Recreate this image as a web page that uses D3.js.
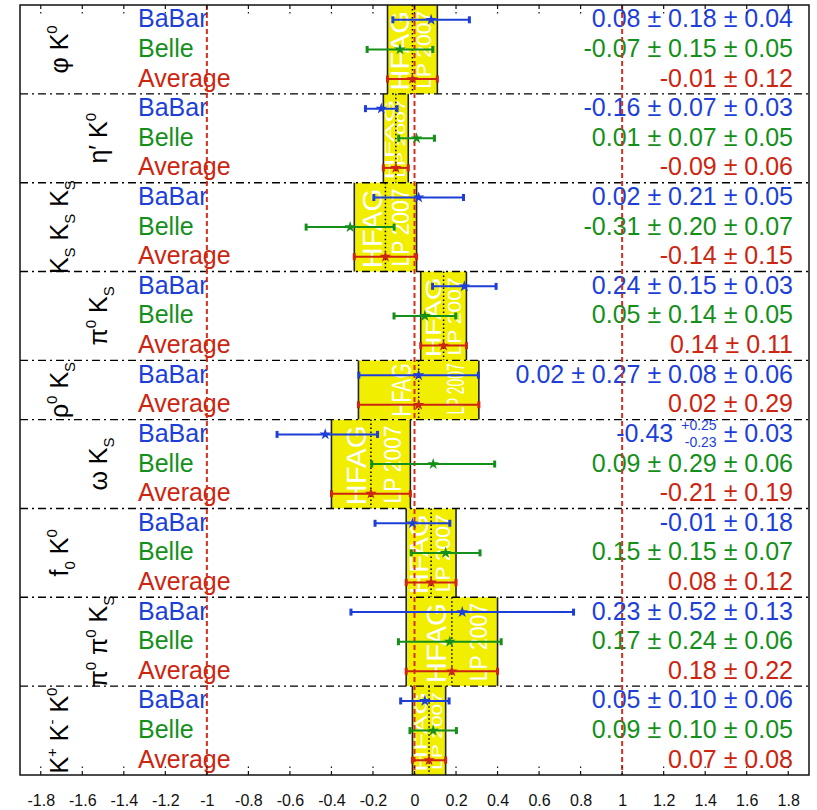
<!DOCTYPE html>
<html><head><meta charset="utf-8">
<script src="https://cdn.jsdelivr.net/npm/d3@7"></script>
<style>
body{margin:0;background:#fff;}
svg{display:block;}
text{font-family:"Liberation Sans",Arial,Helvetica,sans-serif;}
</style>
</head><body>
<svg id="chart" width="817" height="810"></svg>
<script>
// ---------------- DATA ----------------
const modeLabels = [
  [["φ"],[" K"],["0","sup"]],
  [["η′"],[" K"],["0","sup"]],
  [["K"],["S","sub"],[" K"],["S","sub"],[" K"],["S","sub"]],
  [["π"],["0","sup"],[" K"],["S","sub"]],
  [["ρ"],["0","sup"],[" K"],["S","sub"]],
  [["ω"],[" K"],["S","sub"]],
  [["f"],["0","sub"],[" K"],["0","sup"]],
  [["π"],["0","sup"],[" π"],["0","sup"],[" K"],["S","sub"]],
  [["K"],["+","sup"],[" K"],["-","sup"],[" K"],["0","sup"]]
];
const experiments = ["BaBar","Belle","Average"];
const babarValue  = [0.08, -0.16, 0.02, 0.24, 0.02, -0.43, -0.01, 0.23, 0.05];
const babarStatHi = [0.18, 0.07, 0.21, 0.15, 0.27, 0.25, 0.18, 0.52, 0.10];
const babarStatLo = [0.18, 0.07, 0.21, 0.15, 0.27, 0.23, 0.18, 0.52, 0.10];
const babarSyst   = [[0.04],[0.03],[0.05],[0.03],[0.08,0.06],[0.03],[],[0.13],[0.06]];
const belleValue  = [-0.07, 0.01, -0.31, 0.05, null, 0.09, 0.15, 0.17, 0.09];
const belleStat   = [0.15, 0.07, 0.20, 0.14, null, 0.29, 0.15, 0.24, 0.10];
const belleSyst   = [0.05, 0.05, 0.07, 0.05, null, 0.06, 0.07, 0.06, 0.05];
const avgValue    = [-0.01, -0.09, -0.14, 0.14, 0.02, -0.21, 0.08, 0.18, 0.07];
const avgError    = [0.12, 0.06, 0.15, 0.11, 0.29, 0.19, 0.12, 0.22, 0.08];
const xTicks = [-1.8,-1.6,-1.4,-1.2,-1,-0.8,-0.6,-0.4,-0.2,0,0.2,0.4,0.6,0.8,1,1.2,1.4,1.6,1.8];
const refLines = [-1, 0, 1];
const watermark = ["HFAG","LP 2007"];

// ---------------- STYLE ----------------
const colors = {BaBar:"#1d3fd8", Belle:"#14901a", Average:"#cc2510"};
const frame = {left:20, right:809, top:5, bottom:775};
const fmt = v => (v < 0 ? "-" : "") + Math.abs(v).toFixed(2);
const quad = arr => Math.sqrt(arr.reduce((s,a)=>s+a*a,0));

// ---------------- ROWS ----------------
const rows = [];
modeLabels.forEach((lab,i) => {
  const sy = babarSyst[i];
  rows.push({mode:i, exp:"BaBar", v:babarValue[i],
    lo:quad([babarStatLo[i], ...sy]), hi:quad([babarStatHi[i], ...sy]),
    asym: babarStatLo[i] !== babarStatHi[i],
    statHi:babarStatHi[i], statLo:babarStatLo[i], syst:sy,
    text: [fmt(babarValue[i]), fmt(babarStatHi[i]), ...sy.map(fmt)].join(" ± ")});
  if (belleValue[i] !== null) {
    const e = quad([belleStat[i], belleSyst[i]]);
    rows.push({mode:i, exp:"Belle", v:belleValue[i], lo:e, hi:e,
      text:[fmt(belleValue[i]), fmt(belleStat[i]), fmt(belleSyst[i])].join(" ± ")});
  }
  rows.push({mode:i, exp:"Average", v:avgValue[i], lo:avgError[i], hi:avgError[i],
    text:[fmt(avgValue[i]), fmt(avgError[i])].join(" ± ")});
});
rows.forEach((r,k)=> r.idx = k);

const svg = d3.select("#chart");
const x = d3.scaleLinear().domain([-1.9, 1.9]).range([frame.left, frame.right]);
const y = d3.scaleBand().domain(d3.range(rows.length)).range([frame.top, frame.bottom]);
const bw = y.bandwidth();
const yc = k => y(k) + bw/2;

// groups
const groups = modeLabels.map((lab,i) => {
  const rs = rows.filter(r=>r.mode===i);
  const y0 = y(rs[0].idx), y1 = y(rs[rs.length-1].idx) + bw;
  return {i, lab, y0, y1, avg:avgValue[i], err:avgError[i]};
});

// background
svg.append("rect").attr("x",frame.left).attr("y",frame.top)
  .attr("width",frame.right-frame.left).attr("height",frame.bottom-frame.top).attr("fill","#fff");

// yellow boxes with watermark
groups.forEach(g => {
  const x0 = x(g.avg - g.err), x1 = x(g.avg + g.err), w = x1 - x0, h = g.y1 - g.y0;
  const gb = svg.append("g");
  gb.append("rect").attr("x",x0).attr("y",g.y0).attr("width",w).attr("height",h)
    .attr("fill","#f2ee00");
  const fH = Math.min(27, 0.5*w), fL = Math.min(23, 0.42*w);
  gb.append("text").text(watermark[0])
    .attr("transform",`translate(${x0+0.44*w},${g.y1-3}) rotate(-90)`)
    .attr("font-size",fH).attr("fill","#fff")
    .attr("textLength",Math.min(80,h-6)).attr("lengthAdjust","spacingAndGlyphs");
  gb.append("text").text(watermark[1])
    .attr("transform",`translate(${x0+0.88*w},${g.y1-5}) rotate(-90)`)
    .attr("font-size",fL).attr("fill","#fff")
    .attr("textLength",Math.min(78,h-8)).attr("lengthAdjust","spacingAndGlyphs");
  [x0,x1].forEach(xx => gb.append("line").attr("x1",xx).attr("x2",xx)
    .attr("y1",g.y0).attr("y2",g.y1).attr("stroke","#222").attr("stroke-width",1.6));
  gb.append("line").attr("x1",x(g.avg)).attr("x2",x(g.avg)).attr("y1",g.y0).attr("y2",g.y1)
    .attr("stroke","#000").attr("stroke-width",1.5).attr("stroke-dasharray","1.5,2.5");
});

// separators
groups.slice(1).forEach(g => {
  svg.append("line").attr("x1",frame.left).attr("x2",frame.right).attr("y1",g.y0).attr("y2",g.y0)
    .attr("stroke","#000").attr("stroke-width",1.4).attr("stroke-dasharray","8,4,2,4");
});

// experiment labels
svg.append("g").selectAll("text").data(rows).join("text")
  .attr("x",138).attr("y",d=>yc(d.idx)+7.5)
  .attr("font-size",25).attr("fill",d=>colors[d.exp]).text(d=>d.exp);

// value texts
const vt = svg.append("g");
rows.forEach(r => {
  const by = yc(r.idx) + 7.5;
  if (!r.asym) {
    vt.append("text").attr("x",793).attr("y",by).attr("text-anchor","end")
      .attr("font-size",25).attr("fill",colors[r.exp]).text(r.text);
  } else {
    const t1 = vt.append("text").attr("x",793).attr("y",by).attr("text-anchor","end")
      .attr("font-size",25).attr("fill",colors[r.exp]).text("± " + r.syst.map(fmt).join(" ± "));
    const w1 = t1.node().getComputedTextLength();
    const xs = 793 - w1 - 7;
    const s1 = vt.append("text").attr("x",xs).attr("y",by-12).attr("text-anchor","end")
      .attr("font-size",14).attr("fill",colors[r.exp]).text("+" + r.statHi.toFixed(2));
    const s2 = vt.append("text").attr("x",xs).attr("y",by+5).attr("text-anchor","end")
      .attr("font-size",14).attr("fill",colors[r.exp]).text("-" + r.statLo.toFixed(2));
    const w2 = Math.max(s1.node().getComputedTextLength(), s2.node().getComputedTextLength());
    vt.append("text").attr("x",xs - w2 - 8).attr("y",by).attr("text-anchor","end")
      .attr("font-size",25).attr("fill",colors[r.exp]).text(fmt(r.v));
  }
});

// mode labels (rotated)
groups.forEach(g => {
  const bx = g.i % 2 === 0 ? 68 : 107;
  const t = svg.append("text")
    .attr("transform",`translate(${bx},${(g.y0+g.y1)/2}) rotate(-90)`)
    .attr("text-anchor","middle").attr("font-size",25).attr("fill","#000");
  let off = 0;
  g.lab.forEach(([s,kind]) => {
    const target = kind==="sup" ? -11 : kind==="sub" ? 7 : 0;
    t.append("tspan").attr("dy", target - off)
      .attr("font-size", kind ? 15 : 25).text(s);
    off = target;
  });
});

// reference lines
refLines.forEach(v => {
  svg.append("line").attr("x1",x(v)).attr("x2",x(v)).attr("y1",frame.top).attr("y2",frame.bottom)
    .attr("stroke","#d4301e").attr("stroke-width",2).attr("stroke-dasharray","5,3");
});

// error bars
const eb = svg.append("g").selectAll("g").data(rows).join("g");
eb.append("line").attr("x1",d=>x(d.v-d.lo)).attr("x2",d=>x(d.v+d.hi))
  .attr("y1",d=>yc(d.idx)).attr("y2",d=>yc(d.idx))
  .attr("stroke",d=>colors[d.exp]).attr("stroke-width",2);
eb.each(function(d){
  const g = d3.select(this);
  [d.v-d.lo, d.v+d.hi].forEach(e => g.append("rect")
    .attr("x",x(e)-1.5).attr("y",yc(d.idx)-3.5).attr("width",3).attr("height",7)
    .attr("fill",colors[d.exp]));
});
eb.append("path").attr("d",d3.symbol(d3.symbolStar,42))
  .attr("transform",d=>`translate(${x(d.v)},${yc(d.idx)})`)
  .attr("fill",d=>colors[d.exp]);

// frame
svg.append("rect").attr("x",frame.left).attr("y",frame.top)
  .attr("width",frame.right-frame.left).attr("height",frame.bottom-frame.top)
  .attr("fill","none").attr("stroke","#111").attr("stroke-width",1.5);

// ticks
const tk = svg.append("g");
xTicks.forEach(t => {
  tk.append("line").attr("x1",x(t)).attr("x2",x(t)).attr("y1",frame.top).attr("y2",frame.top+10)
    .attr("stroke","#111").attr("stroke-width",1.2).attr("stroke-dasharray","4,3,1.5");
  tk.append("line").attr("x1",x(t)).attr("x2",x(t)).attr("y1",frame.bottom).attr("y2",frame.bottom-10)
    .attr("stroke","#111").attr("stroke-width",1.2).attr("stroke-dasharray","4,3,1.5");
});

// axis labels
const axis = d3.axisBottom(x).tickValues(xTicks).tickSize(0).tickPadding(20)
  .tickFormat(d => (+d.toFixed(1)).toString());
const ag = svg.append("g").attr("transform",`translate(0,${frame.bottom})`).call(axis);
ag.select(".domain").remove();
ag.selectAll("text").attr("font-size",16).attr("fill","#111")
  .attr("font-family","'Liberation Sans',Arial,sans-serif");
</script>
</body></html>
